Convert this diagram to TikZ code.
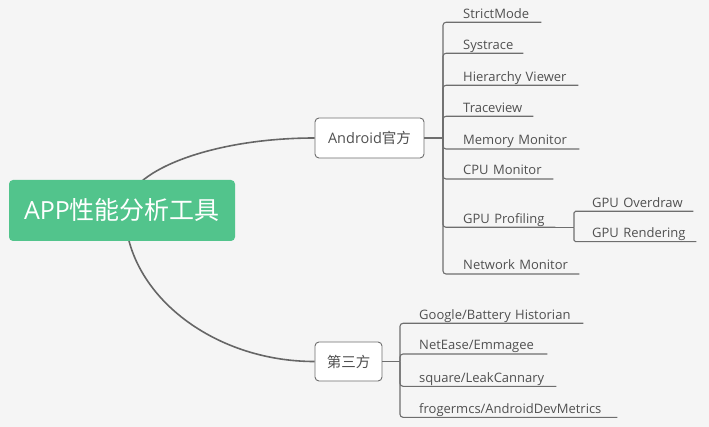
\documentclass[tikz,border=0pt]{standalone}
\usepackage{fontspec}
\setmainfont{Open Sans}
\newfontfamily\cjk{Noto Sans CJK SC}
\pgfdeclarelayer{bg}\pgfdeclarelayer{links}
\pgfsetlayers{bg,links,main}
\definecolor{bgc}{HTML}{F5F5F5}
\definecolor{rootc}{HTML}{52C48C}
\definecolor{txt}{HTML}{505050}
\definecolor{lnc}{HTML}{6E6E6E}
\definecolor{curvec}{HTML}{666666}
\tikzset{
 rootbox/.style={fill=rootc, rounded corners=4pt, minimum width=226pt, minimum height=61pt, inner sep=0pt, text=white, font=\fontsize{25}{25}\selectfont},
 topicbox/.style={draw=lnc, fill=white, rounded corners=4pt, inner sep=0pt, text=txt, font=\fontsize{14.5}{15}\selectfont, line width=0.9pt},
 leaf/.style={anchor=south west, inner xsep=0pt, inner ysep=4pt, text height=10pt, text depth=0pt, align=left, text=txt, font=\fontsize{13}{14}\selectfont},
 curve/.style={draw=curvec, line width=1.6pt},
 branch/.style={draw=lnc, line width=1.1pt, rounded corners=3pt},
}
\begin{document}
\begin{tikzpicture}[x=1pt,y=-1pt]
\begin{pgfonlayer}{bg}\fill[bgc] (0,0) rectangle (709,427);\end{pgfonlayer}
\useasboundingbox (0,0) rectangle (709,427);
\node[rootbox] (root) at (122,210.5) {APP{\cjk 性能分析工具}};
\node[topicbox, minimum width=109pt, minimum height=40pt] (andr) at (369.5,138) {Android{\cjk 官方}};
\node[topicbox, minimum width=67pt, minimum height=39pt] (third) at (348.5,361.5) {\cjk 第三方};
\coordinate (rs) at (125,210.5);
\begin{pgfonlayer}{links}
\draw[curve] (rs) .. controls (125,171) and (212,138) .. (andr.west);
\draw[curve] (rs) .. controls (125,293) and (212,361.5) .. (third.west);
\end{pgfonlayer}
% Android branch
\coordinate (ja) at (443,138);
\draw[branch] (andr.east) -- (ja);
\node[leaf, text width=78pt] (a1) at (463,22.3) {StrictMode};
\node[leaf, text width=60pt] (a2) at (463,53.3) {Systrace};
\node[leaf, text width=115pt] (a3) at (463,85.3) {Hierarchy Viewer};
\node[leaf, text width=70pt] (a4) at (463,116.3) {Traceview};
\node[leaf, text width=116pt] (a5) at (463,149) {Memory Monitor};
\node[leaf, text width=90pt] (a6) at (463,179) {CPU Monitor};
\node[leaf, text width=92pt] (a7) at (463,227.3) {GPU Profiling};
\node[leaf, text width=116pt] (a8) at (463,274) {Network Monitor};
\foreach \n in {a1,a2,a3,a4,a5,a6,a7,a8} \draw[branch] (ja) |- (\n.south east);
% GPU sub-branch
\coordinate (jg) at (574,227.3);
\draw[branch] (a7.south east) -- (jg);
\node[leaf, text width=101pt] (g1) at (592,211.3) {GPU Overdraw};
\node[leaf, text width=104pt] (g2) at (592,241.7) {GPU Rendering};
\draw[branch, rounded corners=1.5pt] (jg) |- (g1.south east);
\draw[branch, rounded corners=1.5pt] (jg) |- (g2.south east);
% third-party branch
\coordinate (jt) at (400,361.5);
\draw[branch] (third.east) -- (jt);
\node[leaf, text width=164pt] (t1) at (419,323.3) {Google/Battery Historian};
\node[leaf, text width=128pt] (t2) at (419,354) {NetEase/Emmagee};
\node[leaf, text width=137pt] (t3) at (419,386.3) {square/LeakCannary};
\node[leaf, text width=198pt] (t4) at (419,417.3) {frogermcs/AndroidDevMetrics};
\foreach \n in {t1,t2,t3,t4} \draw[branch] (jt) |- (\n.south east);
\end{tikzpicture}
\end{document}
